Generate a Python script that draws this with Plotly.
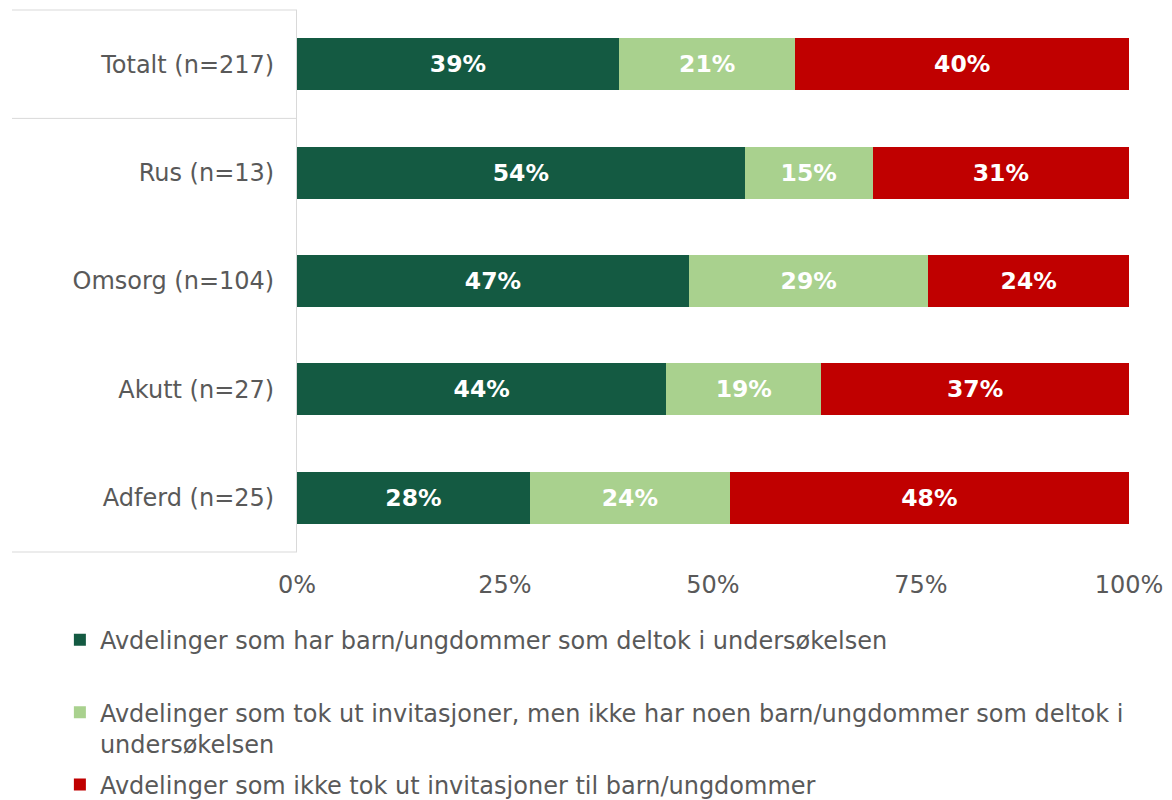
import plotly.graph_objects as go

categories = ["Totalt (n=217)", "Rus (n=13)", "Omsorg (n=104)", "Akutt (n=27)", "Adferd (n=25)"]
series_names = [
    "Avdelinger som har barn/ungdommer som deltok i undersøkelsen",
    "Avdelinger som tok ut invitasjoner, men ikke har noen barn/ungdommer som deltok i<br>undersøkelsen",
    "Avdelinger som ikke tok ut invitasjoner til barn/ungdommer",
]
deltok = [0.387, 0.538, 0.471, 0.444, 0.28]
invitert = [0.212, 0.154, 0.288, 0.186, 0.24]
ikke_invitert = [0.401, 0.308, 0.241, 0.370, 0.48]
colors = ["#145A42", "#A9D18E", "#C00000"]
tick_vals = [0, 0.25, 0.5, 0.75, 1.0]
tick_text = ["0%", "25%", "50%", "75%", "100%"]

FONT = "DejaVu Sans"
GREY = "#595959"
LINE = "#D9D9D9"

fig = go.Figure()
legend_labels = [series_names[0] + "<br> ", series_names[1], series_names[2]]
for i, (vals, col) in enumerate(zip([deltok, invitert, ikke_invitert], colors)):
    fig.add_trace(go.Bar(
        y=categories, x=vals, orientation="h", name=legend_labels[i],
        legendgroup=f"g{i}",
        marker=dict(color=col, line=dict(width=0)),
        text=[f"{round(v*100):d}%" for v in vals],
        textposition="inside", insidetextanchor="middle", textangle=0,
        constraintext="none",
        textfont=dict(family=FONT, size=23.5, color="white", weight="bold"),
        hoverinfo="skip",
    ))

fig.update_layout(
    width=1164, height=792,
    barmode="stack", bargap=0.52,
    paper_bgcolor="white", plot_bgcolor="white",
    margin=dict(l=289, r=43, t=2, b=248, autoexpand=False),
    font=dict(family=FONT, size=24, color=GREY),
    showlegend=True,
    legend=dict(
        orientation="v", x=-0.285, xanchor="left", y=-0.1211, yanchor="top",
        traceorder="grouped", tracegroupgap=7, valign="top",
        font=dict(family=FONT, size=24, color=GREY),
        itemclick=False, itemdoubleclick=False,
    ),
    xaxis=dict(
        range=[0, 1], tickvals=tick_vals, ticktext=tick_text,
        showgrid=False, zeroline=False, showline=False, ticks="",
        ticklabelstandoff=16, fixedrange=True,
    ),
    yaxis=dict(
        autorange="reversed", showgrid=False, zeroline=False,
        showline=True, linecolor=LINE, linewidth=1, ticks="",
        ticklabelstandoff=17, fixedrange=True,
    ),
)

x0 = -285 / 832
for y in [1, 0]:
    fig.add_shape(type="line", xref="paper", yref="paper", x0=x0, x1=0, y0=y, y1=y,
                  line=dict(color=LINE, width=1), layer="above")
fig.add_shape(type="line", xref="paper", yref="y", x0=x0, x1=0, y0=0.5, y1=0.5,
              line=dict(color=LINE, width=1), layer="above")

fig.write_html("out.html")
